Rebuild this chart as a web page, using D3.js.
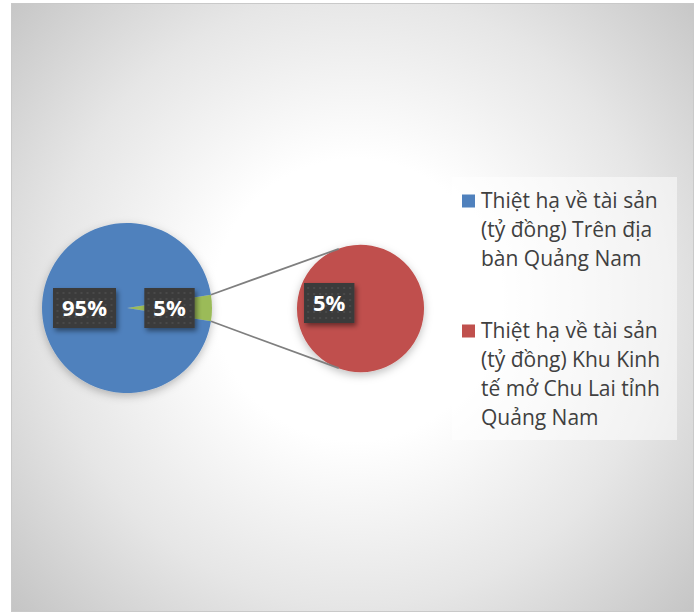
<!DOCTYPE html>
<html>
<head>
<meta charset="utf-8">
<script src="https://cdn.jsdelivr.net/npm/d3@7"></script>
<style>
  body { margin: 0; background: #fff; }
  svg { display: block; }
</style>
</head>
<body>
<div id="chart"></div>
<script>
// Data
const categories = [
  'Thiệt hạ về tài sản (tỷ đồng) Trên địa bàn Quảng Nam',
  'Thiệt hạ về tài sản (tỷ đồng) Khu Kinh tế mở Chu Lai tỉnh Quảng Nam',
];
// legend text as it wraps in the picture
const legendLines = [
  ['Thiệt hạ về tài sản', '(tỷ đồng) Trên địa', 'bàn Quảng Nam'],
  ['Thiệt hạ về tài sản', '(tỷ đồng) Khu Kinh', 'tế mở Chu Lai tỉnh', 'Quảng Nam'],
];
const values = [95, 5]; // percent
const colors = ['#4f81bd', '#c0504d'];
const otherColor = '#9bbb59';

const width = 697;
const height = 615;

const svg = d3
  .select('#chart')
  .append('svg')
  .attr('width', width)
  .attr('height', height)
  .attr('viewBox', [0, 0, width, height]);

const defs = svg.append('defs');

// background gradient
const grad = defs
  .append('radialGradient')
  .attr('id', 'bg')
  .attr('gradientUnits', 'userSpaceOnUse')
  .attr('cx', 355)
  .attr('cy', 300)
  .attr('r', 470);
grad.append('stop').attr('offset', 0).attr('stop-color', '#ffffff');
grad.append('stop').attr('offset', 0.3).attr('stop-color', '#ffffff');
grad.append('stop').attr('offset', 0.65).attr('stop-color', '#e6e6e6');
grad.append('stop').attr('offset', 1).attr('stop-color', '#c3c3c3');

// soft shadow for pies
const pieShadow = defs.append('filter').attr('id', 'pieShadow')
  .attr('x', '-20%').attr('y', '-20%').attr('width', '140%').attr('height', '140%');
pieShadow.append('feDropShadow')
  .attr('dx', 0).attr('dy', 3).attr('stdDeviation', 4)
  .attr('flood-color', '#000').attr('flood-opacity', 0.25);

// shadow for label boxes
const labShadow = defs.append('filter').attr('id', 'labShadow')
  .attr('x', '-30%').attr('y', '-30%').attr('width', '160%').attr('height', '160%');
labShadow.append('feDropShadow')
  .attr('dx', 2).attr('dy', 3).attr('stdDeviation', 2.5)
  .attr('flood-color', '#000').attr('flood-opacity', 0.45);

// dotted fill for label boxes
const dots = defs.append('pattern').attr('id', 'dots')
  .attr('patternUnits', 'userSpaceOnUse').attr('width', 6).attr('height', 6);
dots.append('rect').attr('width', 6).attr('height', 6).attr('fill', '#3a3a3a');
dots.append('circle').attr('cx', 3).attr('cy', 3).attr('r', 0.9).attr('fill', '#525252');

svg.append('rect')
  .attr('x', 11.5)
  .attr('y', 3.5)
  .attr('width', 682)
  .attr('height', 608)
  .attr('fill', 'url(#bg)')
  .attr('stroke', '#c9c9c9');

// primary pie: first category + aggregated "other" slice
const total = d3.sum(values);
const mainData = [
  { name: 'other', value: values[1], color: otherColor },
  { name: categories[0], value: values[0], color: colors[0] },
];
const otherFrac = values[1] / total;
const start1 = Math.PI / 2 - otherFrac * Math.PI;
const pie1 = d3.pie().sort(null).value((d) => d.value)
  .startAngle(start1).endAngle(start1 + 2 * Math.PI);

const c1 = { x: 127, y: 308 };
const r1 = 85;
const arc1 = d3.arc().innerRadius(0).outerRadius(r1);

// secondary pie: second category
const subData = [{ name: categories[1], value: values[1], color: colors[1] }];
const start2 = (100 * Math.PI) / 180;
const pie2 = d3.pie().sort(null).value((d) => d.value)
  .startAngle(start2).endAngle(start2 + 2 * Math.PI);
const c2 = { x: 360.5, y: 308.5 };
const r2 = 63.5;
const arc2 = d3.arc().innerRadius(0).outerRadius(r2);

const arcs1 = pie1(mainData);
const arcs2 = pie2(subData);

// connector lines
const otherArc = arcs1[0];
const pt = (c, r, a) => [c.x + r * Math.sin(a), c.y - r * Math.cos(a)];
const tilt = (20 * Math.PI) / 180;
const connectors = [
  [pt(c1, r1, otherArc.startAngle), pt(c2, r2, -tilt)],
  [pt(c1, r1, otherArc.endAngle), pt(c2, r2, Math.PI + tilt)],
];

const g1 = svg.append('g').attr('transform', `translate(${c1.x},${c1.y})`)
  .attr('filter', 'url(#pieShadow)');
g1.selectAll('path')
  .data(arcs1)
  .join('path')
  .attr('d', arc1)
  .attr('fill', (d) => d.data.color);

const g2 = svg.append('g').attr('transform', `translate(${c2.x},${c2.y})`)
  .attr('filter', 'url(#pieShadow)');
g2.selectAll('path')
  .data(arcs2)
  .join('path')
  .attr('d', arc2)
  .attr('fill', (d) => d.data.color);

svg.append('g')
  .selectAll('line')
  .data(connectors)
  .join('line')
  .attr('x1', (d) => d[0][0])
  .attr('y1', (d) => d[0][1])
  .attr('x2', (d) => d[1][0])
  .attr('y2', (d) => d[1][1])
  .attr('stroke', '#7f7f7f')
  .attr('stroke-width', 1.75);

// data labels
const fmt = (v) => `${Math.round((v / total) * 100)}%`;
const labels = [
  ...arcs1.map((d) => ({ pos: arc1.centroid(d), c: c1, text: fmt(d.data.value) })),
  ...arcs2.map((d) => ({ pos: arc2.centroid(d), c: c2, text: fmt(d.data.value) })),
];

const lab = svg.append('g')
  .selectAll('g')
  .data(labels)
  .join('g')
  .attr('transform', (d) => `translate(${d.c.x + d.pos[0]},${d.c.y + d.pos[1]})`);

lab.append('rect').attr('class', 'box');
lab.append('text')
  .attr('text-anchor', 'middle')
  .attr('dy', '0.36em')
  .attr('fill', '#ffffff')
  .style('font-family', '"Open Sans", sans-serif')
  .style('font-weight', 'bold')
  .style('font-size', '22px')
  .text((d) => d.text);

lab.each(function () {
  const w = d3.select(this).select('text').node().getComputedTextLength();
  d3.select(this).select('rect')
    .attr('x', -(w + 18) / 2)
    .attr('y', -20)
    .attr('width', w + 18)
    .attr('height', 40)
    .attr('fill', 'url(#dots)')
    .attr('filter', 'url(#labShadow)');
});

// legend
const legend = svg.append('g');
legend.append('rect')
  .attr('x', 452)
  .attr('y', 177)
  .attr('width', 225)
  .attr('height', 263)
  .attr('fill', '#ffffff')
  .attr('fill-opacity', 0.5);

const lineH = 29;
const itemTop = [201, 331];
const items = legend.selectAll('g.item')
  .data(categories)
  .join('g')
  .attr('class', 'item')
  .attr('transform', (d, i) => `translate(462,${itemTop[i]})`);

items.append('rect')
  .attr('x', 0)
  .attr('y', -6.5)
  .attr('width', 13)
  .attr('height', 13)
  .attr('fill', (d, i) => colors[i]);

items.append('text')
  .attr('fill', '#404040')
  .style('font-family', '"Open Sans", sans-serif')
  .style('font-size', '21px')
  .selectAll('tspan')
  .data((d, i) => legendLines[i])
  .join('tspan')
  .attr('x', 19)
  .attr('y', (d, j) => j * lineH)
  .attr('dy', '0.35em')
  .text((d) => d);
</script>
</body>
</html>
